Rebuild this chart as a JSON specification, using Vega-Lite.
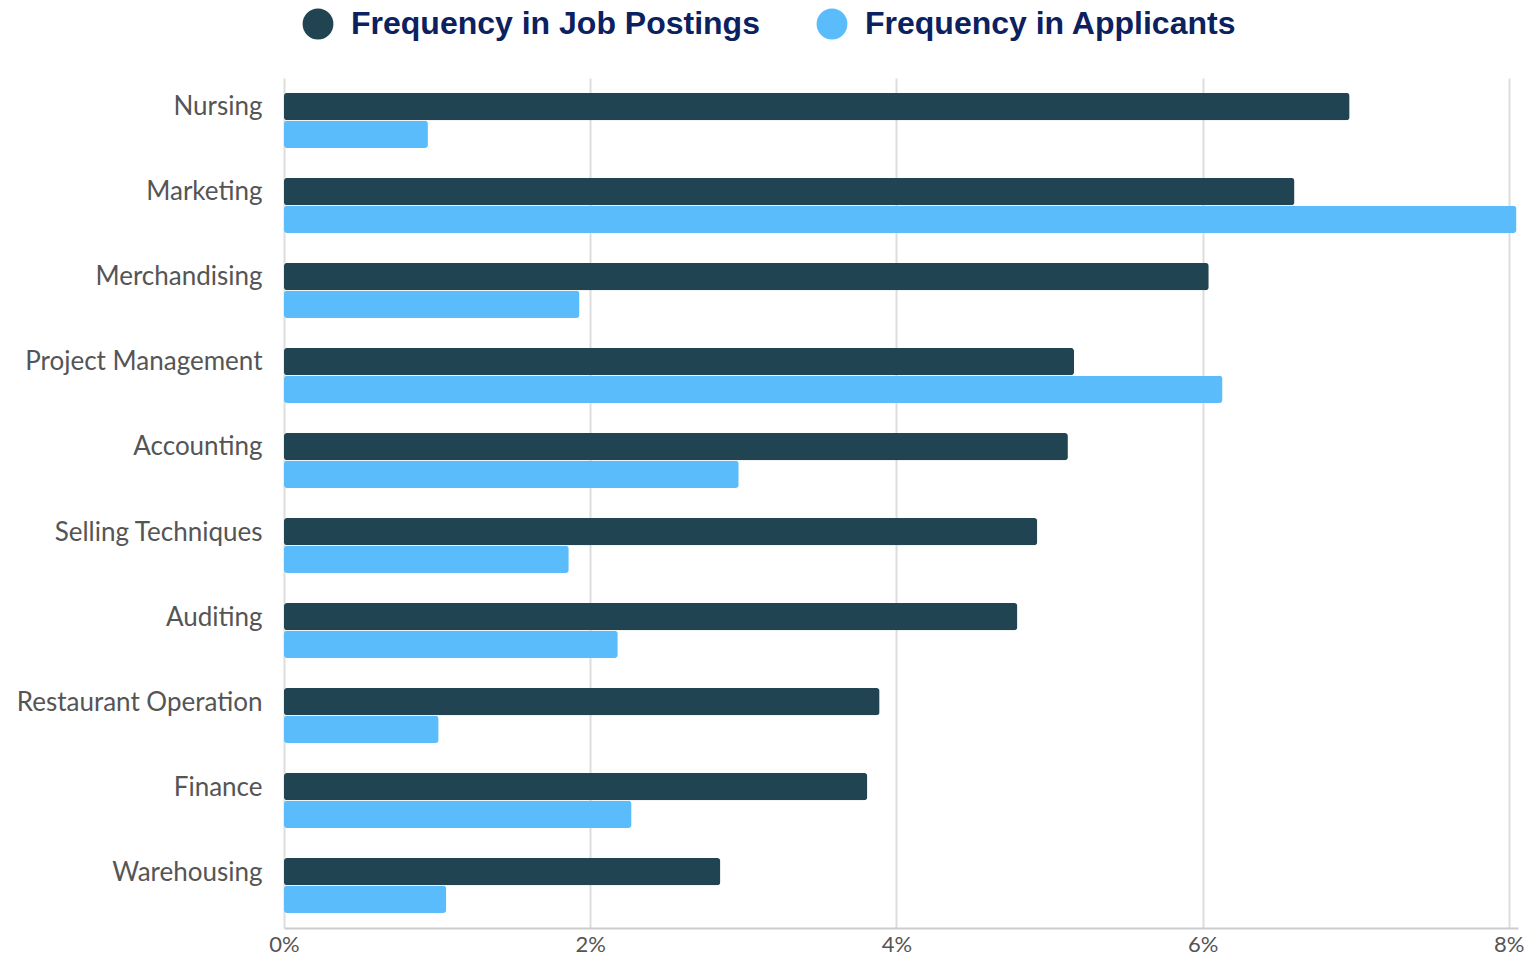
{
  "$schema": "https://vega.github.io/schema/vega-lite/v6.json",
  "width": 1234,
  "height": 850,
  "autosize": {"type": "none"},
  "padding": {"left": 284, "top": 78, "right": 12, "bottom": 29},
  "background": "white",
  "data": {
    "values": [
      {"skill": "Nursing", "series": "Frequency in Job Postings", "value": 6.96},
      {"skill": "Nursing", "series": "Frequency in Applicants", "value": 0.94},
      {"skill": "Marketing", "series": "Frequency in Job Postings", "value": 6.60},
      {"skill": "Marketing", "series": "Frequency in Applicants", "value": 8.05},
      {"skill": "Merchandising", "series": "Frequency in Job Postings", "value": 6.04},
      {"skill": "Merchandising", "series": "Frequency in Applicants", "value": 1.93},
      {"skill": "Project Management", "series": "Frequency in Job Postings", "value": 5.16},
      {"skill": "Project Management", "series": "Frequency in Applicants", "value": 6.13},
      {"skill": "Accounting", "series": "Frequency in Job Postings", "value": 5.12},
      {"skill": "Accounting", "series": "Frequency in Applicants", "value": 2.97},
      {"skill": "Selling Techniques", "series": "Frequency in Job Postings", "value": 4.92},
      {"skill": "Selling Techniques", "series": "Frequency in Applicants", "value": 1.86},
      {"skill": "Auditing", "series": "Frequency in Job Postings", "value": 4.79},
      {"skill": "Auditing", "series": "Frequency in Applicants", "value": 2.18},
      {"skill": "Restaurant Operation", "series": "Frequency in Job Postings", "value": 3.89},
      {"skill": "Restaurant Operation", "series": "Frequency in Applicants", "value": 1.01},
      {"skill": "Finance", "series": "Frequency in Job Postings", "value": 3.81},
      {"skill": "Finance", "series": "Frequency in Applicants", "value": 2.27},
      {"skill": "Warehousing", "series": "Frequency in Job Postings", "value": 2.85},
      {"skill": "Warehousing", "series": "Frequency in Applicants", "value": 1.06}
    ]
  },
  "mark": {"type": "bar", "cornerRadius": 3},
  "encoding": {
    "y": {
      "field": "skill",
      "type": "nominal",
      "sort": ["Nursing", "Marketing", "Merchandising", "Project Management", "Accounting", "Selling Techniques", "Auditing", "Restaurant Operation", "Finance", "Warehousing"],
      "scale": {"paddingInner": 0.353, "paddingOuter": 0.176},
      "axis": {
        "title": null,
        "domain": false,
        "ticks": false,
        "labelFont": "Lato",
        "labelFontSize": 26,
        "labelColor": "#555555",
        "labelPadding": 22,
        "labelOffset": -13,
        "labelLimit": 300
      }
    },
    "yOffset": {
      "field": "series",
      "type": "nominal",
      "sort": ["Frequency in Job Postings", "Frequency in Applicants"],
      "scale": {"paddingInner": 0.02}
    },
    "x": {
      "field": "value",
      "type": "quantitative",
      "scale": {"domain": [0, 8.06], "nice": false},
      "axis": {
        "title": null,
        "values": [0, 2, 4, 6, 8],
        "labelExpr": "datum.value + '%'",
        "labelFont": "Lato",
        "labelFontSize": 22,
        "labelColor": "#555555",
        "labelPadding": 6,
        "labelFlush": false,
        "ticks": false,
        "domainColor": "#cccccc",
        "domainWidth": 2,
        "grid": true,
        "gridColor": "#dddddd",
        "gridWidth": 2
      }
    },
    "color": {
      "field": "series",
      "type": "nominal",
      "scale": {"domain": ["Frequency in Job Postings", "Frequency in Applicants"], "range": ["#214452", "#5bbcfc"]},
      "legend": {
        "title": null,
        "orient": "none",
        "direction": "horizontal",
        "legendX": 18,
        "legendY": -70,
        "padding": 0,
        "symbolType": "circle",
        "symbolSize": 950,
        "symbolOpacity": 1,
        "symbolStrokeWidth": 0,
        "labelFont": "Liberation Sans",
        "labelFontWeight": "bold",
        "labelFontSize": 32,
        "labelColor": "#0c2160",
        "labelLimit": 600,
        "labelOffset": 17,
        "columnPadding": 56
      }
    }
  },
  "config": {"view": {"stroke": null}}
}
